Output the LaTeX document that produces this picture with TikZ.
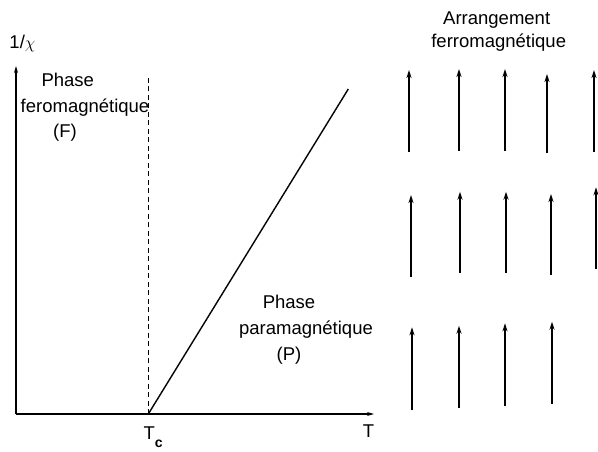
\documentclass[tikz,border=0pt]{standalone}
\usepackage{fontspec}
\setmainfont{Liberation Sans}
\usetikzlibrary{arrows.meta}
\begin{document}
\begin{tikzpicture}[x=1pt,y=-1pt,
  lbl/.style={inner sep=0pt,anchor=base,font=\fontsize{18.5}{22}\selectfont},
  axis/.style={line width=1.5pt,-{Stealth[length=7pt,width=4pt]}},
  spin/.style={line width=1.8pt,-{Stealth[length=8pt,width=5pt]}},
  curve/.style={line width=1.4pt},
  guide/.style={line width=0.7pt,dash pattern=on 5pt off 3.5pt}]
\useasboundingbox (0,0) rectangle (598,451);
% axes
\coordinate (O) at (16,414);
\coordinate (Ytop) at (16,66);
\coordinate (Xend) at (374,414);
\coordinate (Tc) at (148.3,414);
\coordinate (Dtop) at (148.3,75);
\coordinate (Lend) at (348.3,89);
\draw[axis] (O) -- (Ytop);
\draw[axis] (O) -- (Xend);
\draw[guide] (Tc) -- (Dtop);
\draw[curve] (Tc) -- (Lend);
% labels
\node[lbl] (chi) at (22.5,48) {1/$\chi$};
\node[lbl] (f1) at (67.8,86.5) {Phase};
\node[lbl] (f2) at (85,112) {feromagnétique};
\node[lbl] (f3) at (65,137) {(F)};
\node[lbl] (p1) at (289,308) {Phase};
\node[lbl] (p2) at (306,334.5) {paramagnétique};
\node[lbl] (p3) at (289,360.5) {(P)};
\node[lbl] (a1) at (496.7,24) {Arrangement};
\node[lbl] (a2) at (498.7,47.5) {ferromagnétique};
\node[lbl,anchor=base west] (tcl) at (143.3,439) {T\raisebox{-0.45em}{\fontsize{14}{14}\selectfont\bfseries c}};
\node[lbl] (tl) at (368.5,437) {T};
% spins row 1
\coordinate (s11b) at (409,152); \coordinate (s11t) at (409,70);
\coordinate (s12b) at (459,151); \coordinate (s12t) at (459,69);
\coordinate (s13b) at (505,151); \coordinate (s13t) at (505,69);
\coordinate (s14b) at (547,153); \coordinate (s14t) at (547,74);
\coordinate (s15b) at (594,152); \coordinate (s15t) at (594,70);
% spins row 2
\coordinate (s21b) at (411,276.7); \coordinate (s21t) at (411,195);
\coordinate (s22b) at (460,273.3); \coordinate (s22t) at (460,191.7);
\coordinate (s23b) at (506,273.3); \coordinate (s23t) at (506,191.7);
\coordinate (s24b) at (551,275);   \coordinate (s24t) at (551,194);
\coordinate (s25b) at (596,269);   \coordinate (s25t) at (596,187.3);
% spins row 3
\coordinate (s31b) at (412,410);   \coordinate (s31t) at (412,327.3);
\coordinate (s32b) at (459,408.3); \coordinate (s32t) at (459,325.7);
\coordinate (s33b) at (505,405.7); \coordinate (s33t) at (505,323.3);
\coordinate (s34b) at (552,404);   \coordinate (s34t) at (552,321.7);
\foreach \s in {11,12,13,14,15,21,22,23,24,25,31,32,33,34}
  \draw[spin] (s\s b) -- (s\s t);
\end{tikzpicture}
\end{document}
